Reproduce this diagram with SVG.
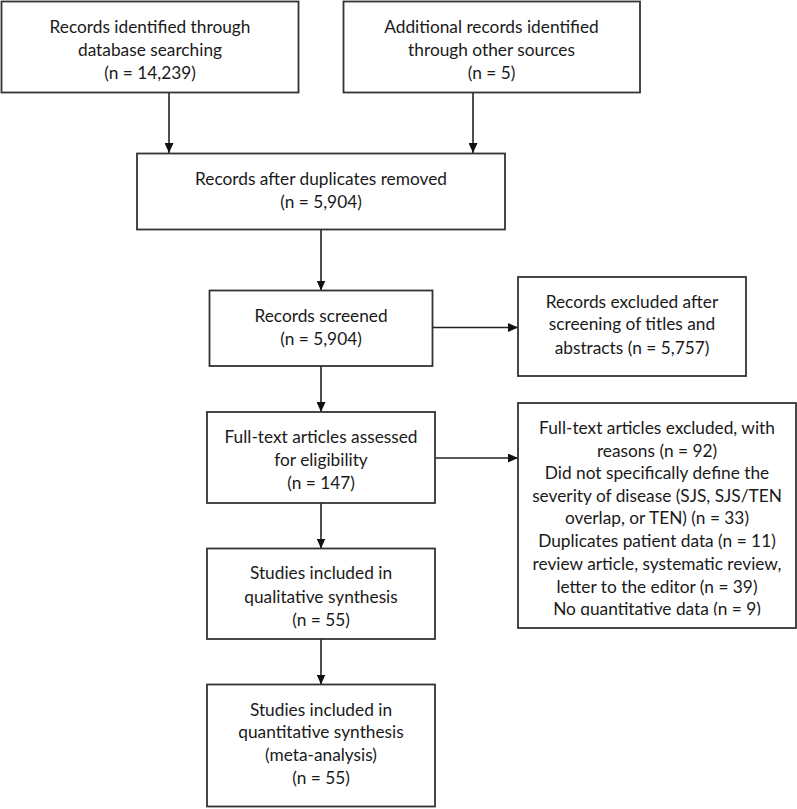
<svg xmlns="http://www.w3.org/2000/svg" width="797" height="809" viewBox="0 0 797 809">
<style>
.box{fill:#fff;stroke:#333;stroke-width:1.8}
.t{font-family:Lato,"Open Sans","Liberation Sans",sans-serif;font-size:17.3px;fill:#1a1a1a;text-anchor:middle}
.c{fill:none;stroke:#222;stroke-width:1.6}
</style>
<defs>
<marker id="ah" markerUnits="userSpaceOnUse" markerWidth="10" markerHeight="9" refX="10" refY="4.5" orient="auto">
<path d="M0,0 L10,4.5 L0,9 z" fill="#111"/>
</marker>
<clipPath id="clipR"><rect x="518" y="403" width="278" height="212.5"/></clipPath>
</defs>
<rect width="797" height="809" fill="#fff"/>
<g id="connectors">
<line class="c" x1="169" y1="92" x2="169" y2="153" marker-end="url(#ah)"/>
<line class="c" x1="473" y1="92" x2="473" y2="153" marker-end="url(#ah)"/>
<line class="c" x1="321" y1="229" x2="321" y2="290.5" marker-end="url(#ah)"/>
<line class="c" x1="432.5" y1="327.5" x2="518" y2="327.5" marker-end="url(#ah)"/>
<line class="c" x1="321" y1="366" x2="321" y2="412" marker-end="url(#ah)"/>
<line class="c" x1="430" y1="458" x2="518" y2="458" marker-end="url(#ah)"/>
<line class="c" x1="321" y1="503" x2="321" y2="548.5" marker-end="url(#ah)"/>
<line class="c" x1="321" y1="639" x2="321" y2="684.5" marker-end="url(#ah)"/>
</g>
<g id="n1">
<rect class="box" x="1.5" y="1.5" width="297" height="91"/>
<text class="t" x="150" y="33">Records identified through</text>
<text class="t" x="150" y="55.5">database searching</text>
<text class="t" x="150" y="78.5">(n = 14,239)</text>
</g>
<g id="n2">
<rect class="box" x="343.5" y="1.5" width="296.5" height="91"/>
<text class="t" x="491.5" y="33">Additional records identified</text>
<text class="t" x="491.5" y="56">through other sources</text>
<text class="t" x="491.5" y="79">(n = 5)</text>
</g>
<g id="n3">
<rect class="box" x="137" y="153.5" width="368" height="76"/>
<text class="t" x="321" y="185">Records after duplicates removed</text>
<text class="t" x="321" y="207.5">(n = 5,904)</text>
</g>
<g id="n4">
<rect class="box" x="209.5" y="290.5" width="223" height="75.5"/>
<text class="t" x="321" y="322">Records screened</text>
<text class="t" x="321" y="345">(n = 5,904)</text>
</g>
<g id="n5">
<rect class="box" x="518" y="277" width="228" height="99"/>
<text class="t" x="632" y="308">Records excluded after</text>
<text class="t" x="632" y="330">screening of titles and</text>
<text class="t" x="632" y="353.5">abstracts (n = 5,757)</text>
</g>
<g id="n6">
<rect class="box" x="207" y="412" width="228" height="91"/>
<text class="t" x="321" y="443">Full-text articles assessed</text>
<text class="t" x="321" y="466">for eligibility</text>
<text class="t" x="321" y="489">(n = 147)</text>
</g>
<g id="n7">
<rect class="box" x="518" y="403" width="278" height="225"/>
<g clip-path="url(#clipR)">
<text class="t" x="657" y="433.5">Full-text articles excluded, with</text>
<text class="t" x="657" y="456.5">reasons (n = 92)</text>
<text class="t" x="657" y="479">Did not specifically define the</text>
<text class="t" x="657" y="501.5">severity of disease (SJS, SJS/TEN</text>
<text class="t" x="657" y="524">overlap, or TEN) (n = 33)</text>
<text class="t" x="657" y="547">Duplicates patient data (n = 11)</text>
<text class="t" x="657" y="569.5">review article, systematic review,</text>
<text class="t" x="657" y="592.5">letter to the editor (n = 39)</text>
<text class="t" x="657" y="615">No quantitative data (n = 9)</text>
</g>
</g>
<g id="n8">
<rect class="box" x="207" y="548.5" width="228" height="90.5"/>
<text class="t" x="321" y="579">Studies included in</text>
<text class="t" x="321" y="602.5">qualitative synthesis</text>
<text class="t" x="321" y="625.5">(n = 55)</text>
</g>
<g id="n9">
<rect class="box" x="207" y="684.5" width="228" height="122"/>
<text class="t" x="321" y="715.5">Studies included in</text>
<text class="t" x="321" y="738">quantitative synthesis</text>
<text class="t" x="321" y="760.5">(meta-analysis)</text>
<text class="t" x="321" y="784">(n = 55)</text>
</g>
</svg>
